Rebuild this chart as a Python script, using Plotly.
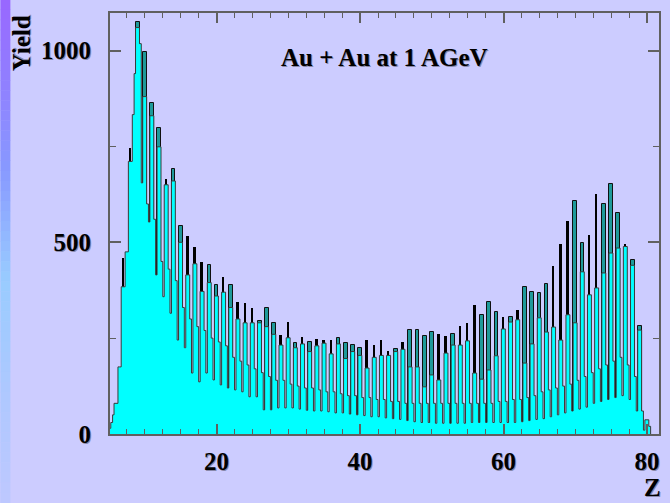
import plotly.graph_objects as go

# ---------------- data ----------------
z = list(range(5, 81))

black_top = [None, None, 460, 747, None, None, None, None, 666, None,
             None, 517, 488, 449, None, None, 410, None, 345, 342,
             329, None, None, None, 258, 292, None, 254, None, 248,
             245, 245, None, None, None, None, 245, 232, 245, 217,
             None, 240, None, None, None, None, 261, 256, None, 282,
             290, 337, None, None, None, 306, None, 324, None, None,
             None, None, 439, 496, 556, None, None, 520, 627, None,
             None, None, 496, None, None, None]

teal_top = [None, None, None, None, 1075, 997, 862, 799, None, 692,
            543, None, None, None, 441, 389, None, 389, None, None,
            None, 295, 329, 290, None, None, 238, None, 241, None,
            None, None, 250, 238, 232, 224, None, None, None, None,
            221, None, 271, 271, 256, 266, None, None, 261, None,
            None, None, 311, 345, 318, None, 306, None, 384, 371,
            368, 392, None, None, None, 608, 499, None, None, 601,
            653, 577, None, 454, 282, None]

cyan_peak = [15, 80, 384, 711, 1060, 880, 830, 749, 650, 660,
             500, 415, 444, 372, 395, 360, 370, 330, 300, 290,
             290, 290, 280, 260, 232, 251, 225, 235, 215, 230,
             237, 209, 235, 197, 215, 205, 172, 200, 205, 205,
             215, 221, 175, 175, 123, 154, 141, 211, 232, 232,
             243, 159, 143, 167, 204, 274, 292, 298, 185, 235,
             303, 266, 279, 245, 311, 290, 423, 363, 381, 420,
             472, 485, 489, 440, 271, 37]

cyan_body = [30, 175, 475, 833, 1018, 600, 560, 450, 430, 400,
             330, 300, 280, 270, 250, 240, 230, 200, 190, 180,
             170, 160, 150, 140, 140, 130, 125, 120, 120, 115,
             110, 110, 105, 100, 100, 95, 95, 90, 90, 85,
             85, 80, 80, 80, 80, 80, 80, 80, 80, 80,
             80, 80, 80, 80, 85, 85, 90, 90, 95, 100,
             110, 115, 120, 125, 130, 140, 150, 160, 170, 180,
             190, 200, 180, 150, 60, 20]

cyan_dip = [3, 50, 175, 475, 940, 655, 553, 415, 358, 315,
            245, 225, 159, 136, 159, 141, 128, 120, 115, 110,
            97, 97, 63, 63, 68, 68, 68, 65, 62, 60,
            60, 58, 55, 55, 52, 50, 48, 45, 45, 42,
            40, 38, 35, 32, 30, 30, 28, 28, 28, 28,
            28, 30, 30, 30, 30, 30, 30, 30, 32, 35,
            38, 40, 45, 50, 55, 60, 65, 70, 80, 85,
            90, 95, 100, 90, 60, 10]

x_ticks = [20, 40, 60, 80]
y_ticks = [0, 500, 1000]

# ---------------- build cyan step outline from the arrays ----------------
xs, ys = [z[0] - 0.5], [0]
for zi, d, p, b in zip(z, cyan_dip, cyan_peak, cyan_body):
    xs += [zi - 0.5, zi - 0.3, zi + 0.25]
    ys += [d, p, b]
xs.append(z[-1] + 0.5)
ys.append(0)

FONT = "Liberation Serif"
BG = "#CCCCFF"
AX = "#606060"

fig = go.Figure()

fig.add_trace(go.Bar(
    x=[zi - 0.08 for zi in z], y=black_top, width=0.34,
    marker=dict(color="black", line=dict(width=0)),
    hoverinfo="skip", showlegend=False))

fig.add_trace(go.Bar(
    x=z, y=teal_top, width=0.52,
    marker=dict(color="#1E9A9A", line=dict(color="#101010", width=1)),
    hoverinfo="skip", showlegend=False))

fig.add_trace(go.Scatter(
    x=xs, y=ys, mode="lines", line=dict(shape="hv", color="#3A3A3A", width=1),
    fill="tozeroy", fillcolor="#00FFFF", hoverinfo="skip", showlegend=False))

# ---------------- layout ----------------
W, H = 670, 503
ML, MR, MT, MB = 110, 9, 13, 69
PW, PH = W - ML - MR, H - MT - MB


def px_x(p):
    return (p - ML) / PW


def px_y(q):
    return (H - MB - q) / PH


tickfont = dict(family=FONT, size=25, color="black", weight="bold",
                shadow="1px 1px 0px #8888AA")

fig.update_layout(
    width=W, height=H,
    margin=dict(l=ML, r=MR, t=MT, b=MB, pad=0),
    paper_bgcolor=BG, plot_bgcolor=BG,
    barmode="overlay", bargap=0,
    showlegend=False,
    xaxis=dict(range=[5.14, 81.67], tickvals=x_ticks, ticks="inside",
               ticklen=10, tickwidth=2, tickcolor=AX,
               minor=dict(dtick=2.5, tick0=0, ticks="inside", ticklen=5,
                          tickwidth=1, tickcolor=AX),
               showline=True, linecolor=AX, linewidth=2, mirror="ticks",
               showgrid=False, zeroline=False, tickfont=tickfont,
               ticklabelstandoff=4),
    yaxis=dict(range=[0, 1098], tickvals=y_ticks, ticks="inside",
               ticklen=11, tickwidth=2, tickcolor=AX,
               minor=dict(dtick=250, tick0=0, ticks="inside", ticklen=6,
                          tickwidth=1, tickcolor=AX),
               showline=True, linecolor=AX, linewidth=2, mirror="ticks",
               showgrid=False, zeroline=False, tickfont=tickfont,
               ticklabelstandoff=12),
)

labfont = dict(family=FONT, size=25, color="black", weight="bold",
               shadow="1px 1px 0px #8888AA")
fig.add_annotation(text="Au + Au at 1 AGeV", xref="paper", yref="paper",
                   x=px_x(386), y=px_y(57), xanchor="center", yanchor="middle",
                   showarrow=False, font=labfont)
fig.add_annotation(text="Yield", xref="paper", yref="paper",
                   x=px_x(21), y=px_y(13), xanchor="center", yanchor="top",
                   textangle=-90, showarrow=False, font=labfont)
fig.add_annotation(text="Z", xref="paper", yref="paper",
                   x=px_x(654), y=px_y(487), xanchor="center", yanchor="middle",
                   showarrow=False, font=labfont)

# decorative gradient strip at the left edge of the slide
stops = [(0, (153, 102, 255)), (170, (136, 153, 255)), (280, (153, 204, 255)),
         (400, (175, 200, 255)), (503, (190, 200, 255))]
n = 50
for k in range(n):
    q0, q1 = k * H / n, (k + 1) * H / n
    qm = (q0 + q1) / 2
    for (a, ca), (b, cb) in zip(stops[:-1], stops[1:]):
        if a <= qm <= b:
            t = (qm - a) / (b - a)
            c = tuple(int(round(ca[j] + t * (cb[j] - ca[j]))) for j in range(3))
            break
    fig.add_shape(type="rect", xref="paper", yref="paper",
                  x0=px_x(0), x1=px_x(10), y0=px_y(q1), y1=px_y(q0) + 0.001,
                  fillcolor="rgb(%d,%d,%d)" % c, line=dict(width=0), layer="above")

fig.write_html("out.html")
